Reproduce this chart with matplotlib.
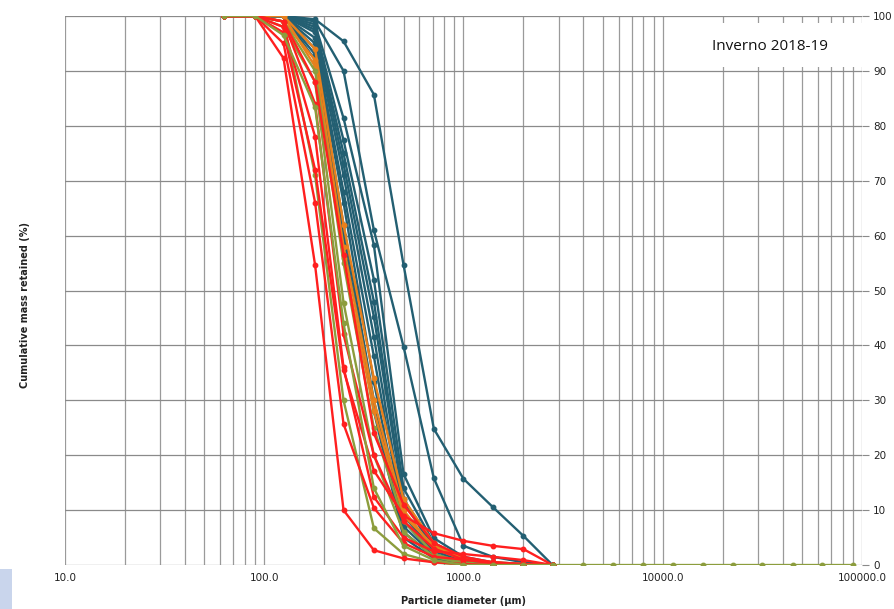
import numpy as np
import matplotlib
matplotlib.use("Agg")
import matplotlib.pyplot as plt
from matplotlib.patches import Rectangle

# --- Data ---
# sieve apertures in micrometres
sieves = [63, 90, 125, 180, 250, 355, 500, 710, 1000, 1400, 2000, 2800]
sieves_ext = sieves + [4000, 5600, 8000, 11200, 16000, 22400, 31500, 45000, 63000, 90000]

# cumulative mass retained (%) per sample
teal_series = [
    [100, 100, 100, 99.4, 95.4, 85.7, 54.7, 24.8, 15.7, 10.6, 5.3, 0],
    [100, 100, 100, 99.0, 90.0, 61.0, 39.8, 15.8, 3.5, 1.5, 0.5, 0],
    [100, 100, 100, 98.5, 81.4, 58.3, 16.6, 4.9, 1.5, 0.5, 0.2, 0],
    [100, 100, 100, 98.0, 77.4, 52.0, 14.0, 4.0, 1.2, 0.3, 0, 0],
    [100, 100, 100, 97.5, 75.0, 48.0, 12.0, 3.5, 1.0, 0.2, 0, 0],
    [100, 100, 100, 97.0, 73.0, 45.2, 11.5, 3.0, 1.0, 0.2, 0, 0],
    [100, 100, 100, 96.0, 71.0, 41.6, 9.0, 2.5, 0.8, 0, 0, 0],
    [100, 100, 100, 95.0, 68.0, 38.0, 8.0, 2.0, 0.6, 0, 0, 0],
    [100, 100, 100, 94.0, 66.0, 33.3, 7.0, 1.8, 0.5, 0, 0, 0],
    [100, 100, 100, 93.0, 62.0, 30.0, 6.0, 1.5, 0.4, 0, 0, 0],
    [100, 100, 100, 92.0, 60.0, 28.0, 5.0, 1.2, 0.3, 0, 0, 0],
]
orange_series = [
    [100, 100, 99, 92, 58, 30, 10, 3.0, 1.0, 0.5, 0, 0],
    [100, 100, 100, 94, 62, 34, 12, 4.0, 1.2, 0.5, 0.2, 0],
    [100, 100, 100, 90.8, 56, 28, 9, 3.5, 1.0, 0.4, 0, 0],
]
olive_series = [
    [100, 100, 99, 90, 55, 25, 8, 2.0, 0.5, 0, 0, 0],
    [100, 100, 99, 71, 30, 6.7, 2, 0.5, 0, 0, 0, 0],
    [100, 100, 98, 88, 47.8, 20, 6, 1.5, 0.3, 0, 0, 0],
]
# the one olive sample with the full sieve stack
olive_ext = [100, 100, 96.5, 83.4, 44, 14, 3.5, 0.9, 0, 0, 0, 0,
             0, 0, 0, 0, 0, 0, 0, 0, 0, 0]
red_series = [
    [100, 100, 92.3, 54.6, 10.0, 2.7, 1.2, 0.5, 0.2, 0, 0, 0],
    [100, 100, 95, 66, 25.7, 10.4, 4.0, 1.5, 1.0, 0.5, 0.2, 0],
    [100, 100, 97, 72, 35.5, 17.2, 9.0, 5.8, 4.4, 3.5, 2.9, 0],
    [100, 100, 98, 78, 36, 12.4, 5.0, 2.5, 2.0, 1.5, 0.9, 0],
    [100, 100, 99, 84, 42, 20, 8.0, 3.0, 1.0, 0.3, 0, 0],
    [100, 100, 99, 88, 56.5, 24, 11, 4.0, 1.5, 0.5, 0, 0],
]

x_ticks = [10, 100, 1000, 10000, 100000]
x_ticklabels = ["10.0", "100.0", "1000.0", "10000.0", "100000.0"]
y_ticks = list(range(0, 101, 10))

TEAL = "#235f72"
ORANGE = "#e8801c"
OLIVE = "#8c9d3d"
RED = "#ff1f1f"

fig = plt.figure(figsize=(8.94, 6.09), dpi=100)
ax = fig.add_axes([0.0727, 0.0722, 0.8915, 0.9015])

ax.set_xscale("log")
ax.set_xlim(10, 100000)
ax.set_ylim(0, 100)

# grid like the spreadsheet original
minor = [m * 10**e for e in range(1, 5) for m in range(2, 10)]
for v in minor + x_ticks:
    ax.axvline(v, color="#9a9a9a", lw=0.9, zorder=0)
for v in y_ticks:
    ax.axhline(v, color="#8a8a8a", lw=0.9, zorder=0)

mk = dict(marker="o", markersize=3.2, lw=1.7)
for s in teal_series:
    ax.plot(sieves, s, color=TEAL, **mk, zorder=3)
for s in orange_series:
    ax.plot(sieves, s, color=ORANGE, **mk, zorder=3)
for s in olive_series:
    ax.plot(sieves, s, color=OLIVE, **mk, zorder=3)
for s in red_series:
    ax.plot(sieves, s, color=RED, **mk, zorder=4)
ax.plot(sieves_ext, olive_ext, color=OLIVE, **mk, zorder=4)

for sp in ax.spines.values():
    sp.set_visible(False)

ax.set_xticks(x_ticks)
ax.set_xticklabels(x_ticklabels)
ax.xaxis.set_minor_locator(matplotlib.ticker.NullLocator())
ax.tick_params(axis="x", length=0, pad=6, labelsize=7.5, labelcolor="#222222")
ax.yaxis.tick_right()
ax.set_yticks(y_ticks)
ax.tick_params(axis="y", length=5, color="#8a8a8a", pad=3, labelsize=7.5,
               labelcolor="#222222")

ax.set_xlabel("Particle diameter (\u00b5m)", fontsize=7, fontweight="bold",
              labelpad=9, color="#222222")
fig.text(0.028, 0.5, "Cumulative mass retained (%)", rotation=90, fontsize=7,
         fontweight="bold", ha="center", va="center", color="#222222")

# season label in a white box over the grid
ax.add_patch(Rectangle((0.772, 0.908), 0.228, 0.079, transform=ax.transAxes,
                       facecolor="white", edgecolor="none", zorder=5))
ax.text(0.885, 0.944, "Inverno 2018-19", transform=ax.transAxes, fontsize=11,
        ha="center", va="center", family="Open Sans", color="#111111", zorder=6)

# little blue corner left in the screenshot
fig.patches.append(Rectangle((0, 0), 0.013, 0.065, transform=fig.transFigure,
                             facecolor="#c9d5ec", edgecolor="none"))

fig.savefig("out.png", dpi=100)
